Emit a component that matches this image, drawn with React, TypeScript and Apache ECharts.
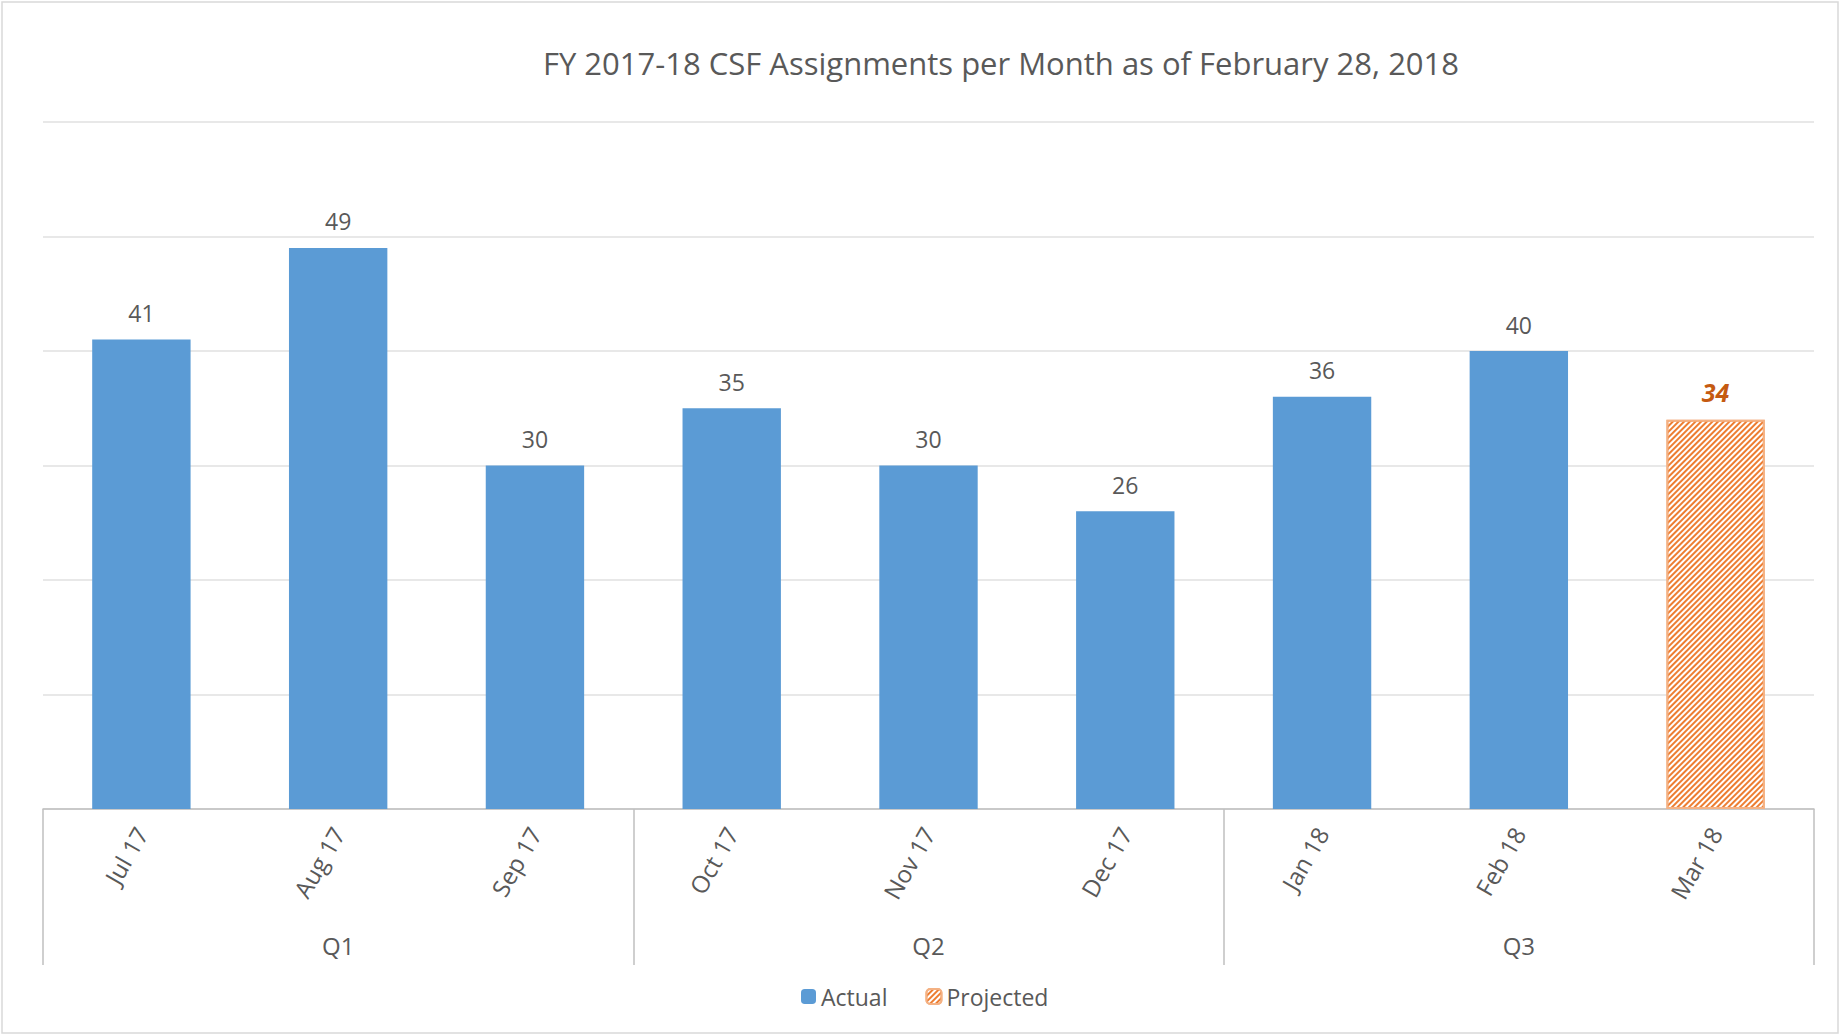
import React, { useEffect, useRef } from "react";
import * as echarts from "echarts";

const titleText = "FY 2017-18 CSF Assignments per Month as of February 28, 2018";
const months = ["Jul 17", "Aug 17", "Sep 17", "Oct 17", "Nov 17", "Dec 17", "Jan 18", "Feb 18", "Mar 18"];
const quarters = ["Q1", "Q2", "Q3"];
const actual = [41, 49, 30, 35, 30, 26, 36, 40, null];
const projected = [null, null, null, null, null, null, null, null, 34];
const yMin = 0;
const yMax = 60;
const yInterval = 10;

const FONT = "'Open Sans', sans-serif";
const TEXT = "#595959";
const AXIS = "#bfbfbf";

export default function App() {
  const ref = useRef<HTMLDivElement>(null);
  useEffect(() => {
    document.body.style.margin = "0";
    const chart = echarts.init(ref.current!, null, { renderer: "svg" });
    chart.setOption({
      animation: false,
      backgroundColor: "#ffffff",
      textStyle: { fontFamily: FONT, color: TEXT },
      title: {
        text: titleText,
        left: 1001,
        top: 47,
        textAlign: "center",
        padding: 0,
        textStyle: { fontFamily: FONT, fontSize: 31, fontWeight: "normal", color: TEXT },
      },
      graphic: [
        {
          type: "rect",
          shape: { x: 2, y: 2, width: 1836, height: 1031 },
          style: { fill: "none", stroke: "#d9d9d9", lineWidth: 1.5 },
          silent: true,
        },
      ],
      legend: {
        left: 801,
        top: 985,
        padding: 0,
        itemWidth: 15,
        itemHeight: 15,
        itemGap: 38,
        textStyle: { fontFamily: FONT, fontSize: 23, color: TEXT },
        data: ["Actual", "Projected"],
      },
      grid: { left: 43, right: 27, top: 122, bottom: 227 },
      xAxis: [
        {
          type: "category",
          data: months,
          position: "bottom",
          axisLine: { show: true, lineStyle: { color: AXIS, width: 1.5 } },
          axisTick: { show: false },
          axisLabel: {
            interval: 0,
            rotate: 60,
            margin: 20,
            fontFamily: FONT,
            fontSize: 24,
            color: TEXT,
          },
        },
        {
          type: "category",
          data: quarters,
          position: "bottom",
          offset: 0,
          axisLine: { show: false },
          axisTick: { show: true, length: 156, interval: 0, lineStyle: { color: AXIS, width: 1.5 } },
          axisLabel: { interval: 0, margin: 124, fontFamily: FONT, fontSize: 24, color: TEXT },
        },
      ],
      yAxis: {
        type: "value",
        min: yMin,
        max: yMax,
        interval: yInterval,
        axisLabel: { show: false },
        axisLine: { show: false },
        axisTick: { show: false },
        splitLine: { show: true, lineStyle: { color: "#e0e0e0", width: 1.5 } },
      },
      series: [
        {
          name: "Actual",
          type: "bar",
          data: actual,
          barWidth: "50%",
          barGap: "-100%",
          itemStyle: { color: "#5b9bd5" },
          label: {
            show: true,
            position: "top",
            distance: 15,
            fontFamily: FONT,
            fontSize: 23,
            color: TEXT,
          },
        },
        {
          name: "Projected",
          type: "bar",
          data: projected,
          barWidth: "50%",
          barGap: "-100%",
          itemStyle: {
            color: "#ffffff",
            borderColor: "#f4b183",
            borderWidth: 2,
            decal: {
              symbol: "rect",
              symbolSize: 1,
              color: "#ed7d31",
              backgroundColor: "#ffffff",
              dashArrayX: [1, 0],
              dashArrayY: [1.5, 1.5],
              rotation: -Math.PI / 4,
            },
          },
          label: {
            show: true,
            position: "top",
            distance: 15,
            fontFamily: FONT,
            fontSize: 25,
            fontWeight: "bold",
            fontStyle: "italic",
            color: "#c55a11",
          },
        },
      ],
    });
    return () => chart.dispose();
  }, []);
  return (
    <div
      ref={ref}
      style={{ position: "absolute", left: 0, top: 0, width: 1841, height: 1036 }}
    />
  );
}
